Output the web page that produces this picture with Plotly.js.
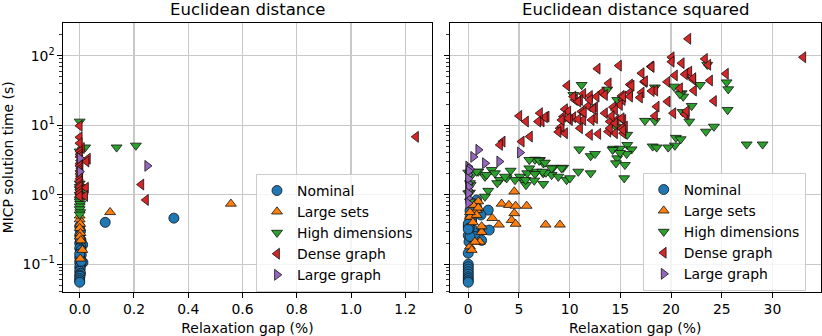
<!DOCTYPE html>
<html><head><meta charset="utf-8">
<script src="https://cdn.plot.ly/plotly-3.0.1.min.js"></script>
<style>html,body{margin:0;padding:0;background:#fff}#chart{width:822px;height:336px}</style>
</head><body><div id="chart"></div>
<script>
// ---------- data: [relaxation gap (%), MICP solution time (s)] ----------
const seriesNames = ['Nominal', 'Large sets', 'High dimensions', 'Dense graph', 'Large graph'];
const panelTitles = ['Euclidean distance', 'Euclidean distance squared'];
const xTicksLeft = [0, 0.2, 0.4, 0.6, 0.8, 1.0, 1.2];
const xTicksRight = [0, 5, 10, 15, 20, 25, 30];
const yTickVals = [0.1, 1, 10, 100];
const yTickText = ['10<sup>\u22121</sup>', '10<sup>0</sup>', '10<sup>1</sup>', '10<sup>2</sup>'];

// Left panel: Euclidean distance
const leftNominal = [[0.347,0.46],[0.094,0.40],[0.0,0.35],[0.003,0.30],[0.0,0.26],[0.005,0.22],[0.0,0.20],[0.011,0.19],[0.004,0.18],[0.0,0.17],[0.002,0.15],[0.006,0.136],[0.0,0.125],[0.003,0.115],[0.012,0.106],[0.0,0.106],[0.004,0.098],[0.0,0.091],[0.002,0.085],[0.0,0.079],[0.003,0.074],[0.0,0.07],[0.001,0.067],[0.0,0.062],[0.0,0.058],[0.0,0.055],[0.006,0.11],[0.005,0.16],[0.0,0.14],[0.002,0.23]];
const leftLargeSets = [[0.557,0.74],[0.112,0.56],[0.0,0.44],[0.002,0.38],[0.0,0.33],[0.003,0.28],[0.0,0.25],[0.004,0.22],[0.01,0.16],[0.002,0.12],[0.0,0.5]];
const leftHighDim = [[0.0,11.3],[0.02,4.8],[0.136,4.8],[0.207,5.1],[0.0,4.2],[0.0,1.45],[0.0,1.3],[0.0,1.2],[0.002,1.1],[0.0,1.0],[0.003,0.93],[0.0,0.86],[0.0,0.8],[0.002,0.74],[0.0,0.68],[0.0,0.62],[0.002,0.56],[0.0,0.52]];
const leftDense = [[1.239,6.8],[0.227,1.4],[0.244,0.84],[0.0,9.8],[0.0,6.7],[0.008,4.7],[0.0,5.5],[0.03,3.3],[0.025,3.0],[0.0,4.2],[0.0,3.8],[0.0,3.5],[0.002,3.1],[0.0,2.8],[0.0,2.6],[0.003,2.4],[0.0,2.2],[0.0,2.0],[0.002,1.85],[0.0,1.7],[0.0,1.55],[0.003,1.4],[0.0,1.3],[0.023,1.26],[0.0,1.15],[0.0,1.05],[0.02,0.96],[0.0,0.95]];
const leftLargeGraph = [[0.249,2.6],[0.0,3.35],[0.0,2.15]];

// Right panel: Euclidean distance squared
const rightNominal = [[0.83,0.66],[1.97,0.60],[1.25,0.51],[0.49,0.54],[0.17,0.46],[0.34,0.41],[0.0,0.35],[0.49,0.31],[1.48,0.31],[2.07,0.31],[0.66,0.25],[1.32,0.22],[0.0,0.26],[0.07,0.21],[0.0,0.144],[0.0,0.1],[0.0,0.092],[0.0,0.085],[0.0,0.078],[0.0,0.072],[0.0,0.066],[0.0,0.062],[0.0,0.058],[0.0,0.055],[0.83,0.84],[0.43,0.74],[0.17,0.59],[0.34,0.44],[0.0,0.38],[0.1,0.33],[0.17,0.25],[0.0,0.32]];
const rightLargeSets = [[4.54,1.11],[3.29,0.74],[4.01,0.71],[4.67,0.69],[4.54,0.54],[5.76,0.69],[4.28,0.43],[4.67,0.38],[3.03,0.37],[2.37,0.46],[7.63,0.37],[9.04,0.37],[0.99,0.80],[0.49,0.71],[0.17,0.48],[0.83,0.60],[1.32,0.29],[1.15,0.21],[0.17,0.18],[0.99,0.65],[0.83,0.51],[1.32,0.35],[0.66,0.21],[0.34,0.16],[0.17,0.56],[0.46,0.40]];
const rightHighDim = [[23.57,74],[18.41,35],[20.29,36],[21.05,28.9],[21.2,25.8],[22.85,38],[25.48,41.5],[25.64,33],[22.03,19],[25.58,16.6],[21.14,15.5],[21.8,11.3],[18.41,11.5],[24.23,9.55],[23.44,8.09],[20.48,6.6],[20.95,6.3],[20.38,5.1],[19.72,4.8],[18.19,4.96],[18.58,4.8],[27.46,5.3],[29.03,5.3],[11.18,38],[10.36,27.3],[13.71,32.6],[14.69,23.1],[14.57,9.4],[17.43,11.6],[10.95,4.5],[12.07,3.6],[12.5,3.87],[14.3,4.6],[14.96,4.6],[15.68,5.2],[16.11,4.5],[15.62,3.87],[14.69,3.35],[15.45,2.69],[14.57,2.84],[10.85,2.15],[12.07,2.04],[9.37,2.45],[8.38,2.45],[7.4,2.84],[6.58,3.2],[7.07,3.17],[7.4,2.04],[8.22,1.93],[15.38,1.73],[7.4,1.43],[9.7,1.63],[10.03,1.73],[8.88,1.82],[7.66,2.08],[6.75,2.15],[6.02,3.17],[7.0,3.1],[7.56,2.9],[8.22,2.4],[9.21,2.4],[6.02,2.4],[5.82,2.04],[5.49,1.55],[5.69,1.38],[5.1,1.82],[4.18,2.22],[3.79,1.73],[3.13,1.63],[2.86,1.47],[2.31,2.28],[1.65,1.82],[0.99,2.15],[0.43,1.99],[0.0,2.08],[0.24,1.38],[0.17,1.07],[1.97,1.14],[1.65,0.94],[0.17,0.80],[7.3,2.15],[6.58,1.99],[5.66,1.63],[6.51,1.6],[4.61,1.63],[3.62,1.82],[0.17,1.47],[0.0,1.05],[0.83,2.15],[1.81,1.93],[2.63,2.04],[14.24,4.42],[14.96,4.0],[20.88,28],[15.68,7.3]];
const rightDense = [[21.7,175],[33.04,95],[20.06,95],[20.06,82],[21.05,78],[23.34,90],[23.67,74],[14.86,72],[12.76,65],[18.02,70],[17.1,56],[20.38,52],[21.54,56],[21.8,59],[25.41,55],[19.63,42],[17.36,42],[22.19,45],[23.84,44],[13.85,40],[9.76,37],[15.95,38.5],[20.88,34],[22.26,31.5],[18.44,31.5],[17.1,29.5],[16.93,25],[15.95,29.5],[15.95,25.8],[15.13,26.4],[15.23,23.1],[13.16,29.5],[12.66,25.8],[11.34,28.2],[10.52,23.1],[11.02,23.1],[12.0,26.4],[10.36,25.8],[19.66,21.9],[24.23,22.3],[18.58,18.5],[14.3,18.2],[14.96,19.6],[12.5,18.2],[11.83,18.9],[9.54,17],[9.86,15.7],[9.37,13.3],[7.73,13.3],[7.24,11.3],[10.36,13.0],[10.03,11.9],[11.18,15.7],[11.34,11.9],[12.33,17],[12.5,12.6],[12.17,11.9],[13.48,14.9],[14.47,16.6],[13.97,11.3],[14.64,11.9],[15.29,11.9],[15.45,9.55],[20.22,14.9],[21.54,14.6],[18.41,13.6],[9.04,9.06],[9.54,7.67],[11.02,9.06],[12.0,7.26],[12.82,7.5],[13.81,8.09],[14.47,7.67],[15.29,7.67],[13.97,9.06],[15.13,9.06],[7.56,13.0],[5.03,13.6],[5.69,11.3],[7.07,14.9],[6.9,11.3],[6.08,6.86],[5.27,5.81],[3.39,5.81],[3.13,5.21],[18.09,69],[21.37,54],[22.19,47.5],[18.09,31],[21.37,14.4],[21.54,16.0],[17.43,43],[16.11,37],[15.29,25.8],[13.48,27.3],[12.0,23.1],[10.85,21.9],[9.21,9.55],[11.4,15.3],[14.47,10.7],[9.86,12.6],[10.85,12.2],[14.15,13.5],[15.13,12.6],[15.29,8.5],[9.21,11.9],[8.9,8.0]];
const rightLargeGraph = [[0.99,4.42],[0.49,3.5],[1.65,2.84],[3.06,3.0],[5.1,4.04],[0.0,2.54],[0.17,2.33],[0.0,1.93],[0.0,1.47],[0.0,1.17],[0.0,0.89],[0.0,0.755],[0.05,2.2],[0.0,1.7],[0.05,1.3],[0.0,1.05]];

// ---------- styling ----------
const FONT = 'DejaVu Sans';
const colors = ['#1f77b4', '#ff7f0e', '#2ca02c', '#d62728', '#9467bd'];
const symbols = ['circle', 'triangle-up', 'triangle-down', 'triangle-left', 'triangle-right'];
const sizes = [10, 9.5, 9.5, 9.5, 9.5];
const leftSets = [leftNominal, leftLargeSets, leftHighDim, leftDense, leftLargeGraph];
const rightSets = [rightNominal, rightLargeSets, rightHighDim, rightDense, rightLargeGraph];

const traces = [];
function addPanel(sets, xa, ya, leg) {
  sets.forEach((pts, i) => {
    traces.push({
      type: 'scatter', mode: 'markers', name: seriesNames[i],
      x: pts.map(p => p[0]), y: pts.map(p => p[1]),
      xaxis: xa, yaxis: ya, legend: leg,
      marker: {symbol: symbols[i], color: colors[i], size: sizes[i], line: {color: '#111', width: 0.8}},
      hoverinfo: 'x+y+name'
    });
  });
}
addPanel(leftSets, 'x', 'y', 'legend');
addPanel(rightSets, 'x2', 'y2', 'legend2');

const minorVals = [];
for (let k = -2; k <= 2; k++) for (let m = 2; m <= 9; m++) minorVals.push(m * Math.pow(10, k));

const W = 822, H = 336;
const plotL = 63, plotR = 432, plot2L = 450, plot2R = 820.5, plotT = 22.7, plotB = 292;
const gridCol = '#c8c8c8';
const tickFont = {family: FONT, size: 13.9, color: '#000'};

function xAxis(domain, range, tickvals, fmt, anchor) {
  return {
    domain: domain, range: range, anchor: anchor,
    tickmode: 'array', tickvals: tickvals, tickformat: fmt,
    ticks: 'outside', ticklen: 4.5, tickwidth: 1, tickcolor: '#000',
    showline: true, linecolor: '#000', linewidth: 1.1, mirror: true,
    showgrid: true, gridcolor: gridCol, gridwidth: 1.3, zeroline: false,
    tickfont: tickFont, automargin: false,
    title: {text: 'Relaxation gap (%)', font: {family: FONT, size: 13.9, color: '#000'}, standoff: 7}
  };
}
function yAxis(domain, anchor, labels) {
  const a = {
    type: 'log', domain: domain, range: [-1.40, 2.475], anchor: anchor,
    tickmode: 'array', tickvals: yTickVals, ticktext: yTickText, showticklabels: labels,
    ticks: 'outside', ticklen: 4.5, tickwidth: 1, tickcolor: '#000',
    minor: {tickmode: 'array', tickvals: minorVals, ticks: 'outside', ticklen: 2.5, tickwidth: 0.8, tickcolor: '#000', showgrid: false},
    showline: true, linecolor: '#000', linewidth: 1.1, mirror: true,
    showgrid: true, gridcolor: gridCol, gridwidth: 1.3, zeroline: false,
    tickfont: tickFont, automargin: false
  };
  if (labels) a.title = {text: 'MICP solution time (s)', font: {family: FONT, size: 13.9, color: '#000'}, standoff: 10};
  return a;
}

const yDom = [1 - plotB / H, 1 - plotT / H];
const legendStyle = {
  bgcolor: 'rgba(255,255,255,0.8)', bordercolor: '#cccccc', borderwidth: 1,
  font: {family: FONT, size: 13.9, color: '#000'}, xanchor: 'left', yanchor: 'top',
  tracegroupgap: 0, itemclick: false
};

const layout = {
  width: W, height: H,
  margin: {l: 0, r: 0, t: 0, b: 0},
  paper_bgcolor: '#fff', plot_bgcolor: '#fff',
  font: {family: FONT, color: '#000'},
  showlegend: true,
  xaxis: xAxis([plotL / W, plotR / W], [-0.0615, 1.298], xTicksLeft, '.1f', 'y'),
  xaxis2: xAxis([plot2L / W, plot2R / W], [-1.80, 34.74], xTicksRight, 'd', 'y2'),
  yaxis: yAxis(yDom, 'x', true),
  yaxis2: yAxis(yDom, 'x2', false),
  legend: Object.assign({x: 256 / W, y: 1 - 174 / H}, legendStyle),
  legend2: Object.assign({x: 642.7 / W, y: 1 - 173 / H}, legendStyle),
  annotations: panelTitles.map((t, i) => ({
    text: t, xref: 'paper', yref: 'paper',
    x: i === 0 ? (plotL + plotR) / 2 / W : (plot2L + plot2R) / 2 / W,
    y: 1 - 9.5 / H, xanchor: 'center', yanchor: 'middle', showarrow: false,
    font: {family: FONT, size: 16.5, color: '#000'}
  }))
};

Plotly.newPlot('chart', traces, layout, {displayModeBar: false, staticPlot: true});
</script>
</body></html>
